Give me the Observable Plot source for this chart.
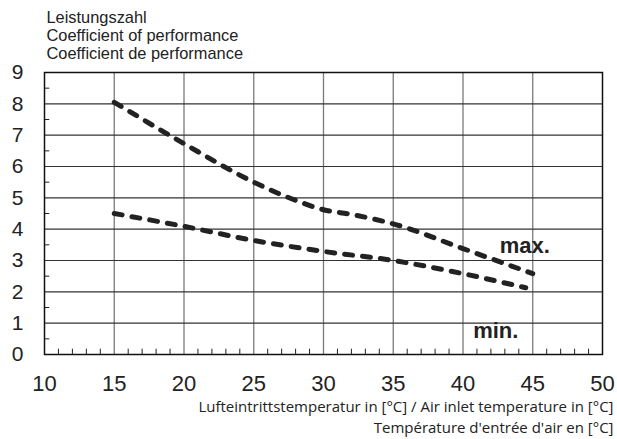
<!DOCTYPE html>
<html>
<head>
<meta charset="utf-8">
<script src="https://cdn.jsdelivr.net/npm/d3@7"></script>
<script src="https://cdn.jsdelivr.net/npm/@observablehq/plot@0.6"></script>
<style>
  body { margin: 0; background: #fff; }
</style>
</head>
<body>
<div id="chart"></div>
<script>
// Data
const maxTemp = [15, 20, 25, 28, 30, 32, 35, 40, 45];
const maxCop  = [8.05, 6.73, 5.5, 4.92, 4.62, 4.47, 4.17, 3.38, 2.58];
const minTemp = [15, 20, 25, 30, 35, 40, 44.5];
const minCop  = [4.5, 4.09, 3.64, 3.29, 3.0, 2.58, 2.13];

const xTicks = [10, 15, 20, 25, 30, 35, 40, 45, 50];
const yTicks = [0, 1, 2, 3, 4, 5, 6, 7, 8, 9];
const xGrid = [15, 20, 25, 30, 35, 40, 45];
const yGrid = [1, 2, 3, 4, 5, 6, 7, 8];
const xMinor = d3.range(11, 50).filter(v => v % 5 !== 0);
const yMinor = d3.range(0.5, 9, 1);

const titleLines = ["Leistungszahl", "Coefficient of performance", "Coefficient de performance"];
const xLabelLines = ["Lufteintrittstemperatur in [°C] / Air inlet temperature in [°C]", "Température d'entrée d'air en [°C]"];
const seriesLabels = ["max.", "min."];

const maxData = maxTemp.map((t, i) => ({t, c: maxCop[i]}));
const minData = minTemp.map((t, i) => ({t, c: minCop[i]}));

const font = "'Liberation Sans', Arial, sans-serif";
const titleOffsets = [-55, -37, -18.5];
const xlabOffsets = [53, 74];

const chart = Plot.plot({
  width: 617,
  height: 439,
  marginLeft: 44,
  marginRight: 15,
  marginTop: 72,
  marginBottom: 85,
  style: {fontFamily: font, background: "#fff"},
  x: {domain: [10, 50], axis: null},
  y: {domain: [0, 9], axis: null},
  marks: [
    Plot.ruleX(xGrid, {stroke: "#7a7a7a", strokeWidth: 1.3}),
    Plot.ruleY(yGrid, {stroke: "#333", strokeWidth: 1.2}),
    Plot.ruleX(xMinor, {y1: 0, y2: 0.17, stroke: "#222", strokeWidth: 1}),
    Plot.ruleY(yMinor, {x1: 10, x2: 10.38, stroke: "#222", strokeWidth: 1}),
    Plot.frame({stroke: "#111", strokeWidth: 1.5}),
    Plot.line(maxData, {x: "t", y: "c", curve: "monotone-x", stroke: "#222", strokeWidth: 5,
      strokeDasharray: "8,10", strokeLinecap: "round"}),
    Plot.line(minData, {x: "t", y: "c", curve: "monotone-x", stroke: "#222", strokeWidth: 5,
      strokeDasharray: "8,10", strokeLinecap: "round"}),
    Plot.text(maxData, Plot.selectLast({x: "t", y: "c", text: () => seriesLabels[0],
      dx: -8, dy: -28, fontWeight: "bold", fontSize: 22, fill: "#222", textAnchor: "middle"})),
    Plot.text(minData, Plot.selectLast({x: "t", y: "c", text: () => seriesLabels[1],
      dx: -30, dy: 43, fontWeight: "bold", fontSize: 22, fill: "#222", textAnchor: "middle"})),
    // tick labels
    Plot.text(xTicks, {x: d => d, frameAnchor: "bottom", dy: 29, text: d => String(d),
      fontSize: 22, fill: "#222", lineAnchor: "middle"}),
    Plot.text(yTicks, {y: d => d, frameAnchor: "left", dx: -27, text: d => String(d),
      fontSize: 21, fill: "#222", textAnchor: "middle", lineAnchor: "middle"}),
    // title lines
    ...titleLines.map((s, i) => Plot.text([s], {frameAnchor: "top-left", text: d => d, dx: 2,
      dy: titleOffsets[i], fontSize: 16.4, fill: "#222", textAnchor: "start", lineAnchor: "middle"})),
    // x label lines
    ...xLabelLines.map((s, i) => Plot.text([s], {frameAnchor: "bottom-right", text: d => d, dx: 11,
      dy: xlabOffsets[i], fontSize: 15, fontFamily: "'Open Sans', sans-serif", fill: "#222",
      textAnchor: "end", lineAnchor: "middle"}))
  ]
});

document.getElementById("chart").appendChild(chart);
</script>
</body>
</html>
